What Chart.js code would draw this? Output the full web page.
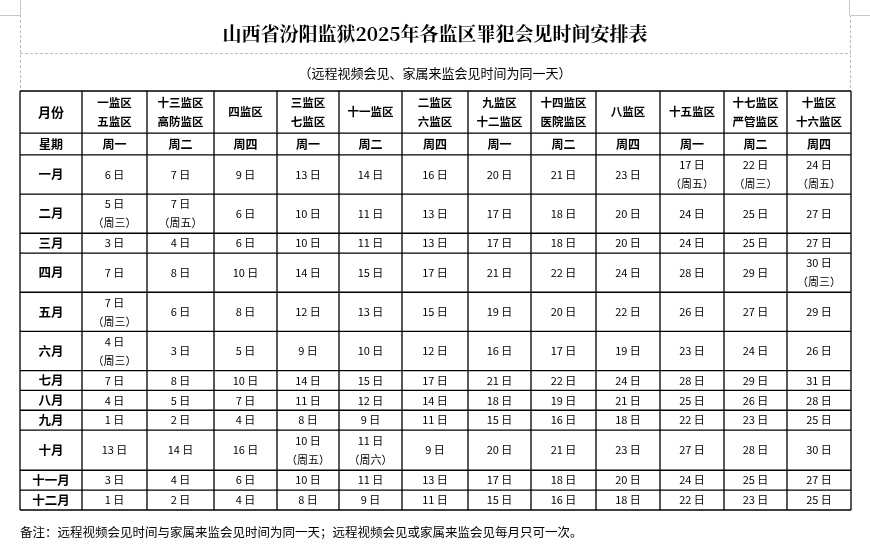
<!DOCTYPE html>
<html><head><meta charset="utf-8">
<script src="https://cdn.jsdelivr.net/npm/chart.js@4"></script>
<style>html,body{margin:0;padding:0;background:#fff}#w{width:870px;height:555px}</style>
</head><body><div id="w"><canvas id="c"></canvas></div>
<script>
const title = '山西省汾阳监狱2025年各监区罪犯会见时间安排表';
const subtitle = '（远程视频会见、家属来监会见时间为同一天）';
const footnote = '备注：远程视频会见时间与家属来监会见时间为同一天；远程视频会见或家属来监会见每月只可一次。';
const headerRow = ['月份','一监区\n五监区','十三监区\n高防监区','四监区','三监区\n七监区','十一监区','二监区\n六监区','九监区\n十二监区','十四监区\n医院监区','八监区','十五监区','十七监区\n严管监区','十监区\n十六监区'];
const weekRow = ['星期','周一','周二','周四','周一','周二','周四','周一','周二','周四','周一','周二','周四'];
const months = ['一月','二月','三月','四月','五月','六月','七月','八月','九月','十月','十一月','十二月'];
const days = [
 [6,7,9,13,14,16,20,21,23,17,22,24],
 [5,7,6,10,11,13,17,18,20,24,25,27],
 [3,4,6,10,11,13,17,18,20,24,25,27],
 [7,8,10,14,15,17,21,22,24,28,29,30],
 [7,6,8,12,13,15,19,20,22,26,27,29],
 [4,3,5,9,10,12,16,17,19,23,24,26],
 [7,8,10,14,15,17,21,22,24,28,29,31],
 [4,5,7,11,12,14,18,19,21,25,26,28],
 [1,2,4,8,9,11,15,16,18,22,23,25],
 [13,14,16,10,11,9,20,21,23,27,28,30],
 [3,4,6,10,11,13,17,18,20,24,25,27],
 [1,2,4,8,9,11,15,16,18,22,23,25]];
const notes = {'0-9':'（周五）','0-10':'（周三）','0-11':'（周五）','1-0':'（周三）','1-1':'（周五）','3-11':'（周三）','4-0':'（周三）','5-0':'（周三）','9-3':'（周五）','9-4':'（周六）'};
const colWidths = [62,65,67,63,62,63,66,63,65,64,64,63,64];
const rowUnits = [2.12,1.1,1.97,1.97,1.0,1.97,1.97,1.97,1.0,1.0,1.0,2.02,1.0,1.0];

const colEdges=[0]; colWidths.forEach(w=>colEdges.push(colEdges[colEdges.length-1]+w));
const rowEdges=[0]; rowUnits.forEach(u=>rowEdges.push(rowEdges[rowEdges.length-1]+u));
const CJK='"Noto Sans CJK SC","Noto Sans",sans-serif';

const tablePlugin={id:'table',afterDraw(chart){
 const ctx=chart.ctx,xs=chart.scales.x,ys=chart.scales.y;
 const X=v=>xs.getPixelForValue(v),Y=v=>ys.getPixelForValue(v);
 ctx.save();
 // page marks
 ctx.strokeStyle='#c8c8c8';ctx.lineWidth=1;
 ctx.beginPath();ctx.moveTo(20.5,0);ctx.lineTo(20.5,15);ctx.moveTo(0,15.5);ctx.lineTo(20,15.5);
 ctx.moveTo(849.5,0);ctx.lineTo(849.5,15);ctx.moveTo(850,15.5);ctx.lineTo(870,15.5);ctx.stroke();
 ctx.setLineDash([3,2]);ctx.strokeStyle='#bbb';
 ctx.beginPath();
 ctx.moveTo(20.5,15);ctx.lineTo(20.5,91);ctx.moveTo(850.5,15);ctx.lineTo(850.5,91);
 ctx.moveTo(20,53.5);ctx.lineTo(851,53.5);ctx.stroke();
 ctx.setLineDash([]);
 ctx.fillStyle='#000';ctx.textAlign='center';ctx.textBaseline='middle';
 ctx.font='bold 19px "Noto Serif CJK SC","Noto Sans CJK SC",serif';
 ctx.fillText(title,435,34);
 ctx.font='13px '+CJK;ctx.fillText(subtitle,435,73);
 ctx.textAlign='left';ctx.font='12.5px '+CJK;ctx.fillText(footnote,20,532);
 // grid
 ctx.strokeStyle='#000';ctx.lineWidth=1.3;ctx.beginPath();
 colEdges.forEach(c=>{ctx.moveTo(X(c),Y(0));ctx.lineTo(X(c),Y(rowEdges[rowEdges.length-1]));});
 rowEdges.forEach(r=>{ctx.moveTo(X(0),Y(r));ctx.lineTo(X(colEdges[colEdges.length-1]),Y(r));});
 ctx.stroke();
 ctx.textAlign='center';
 const cell=(ri,ci,lines,font)=>{
  const cx=(X(colEdges[ci])+X(colEdges[ci+1]))/2, cy=(Y(rowEdges[ri])+Y(rowEdges[ri+1]))/2;
  ctx.font=font;const lh=lines.length>1?19:0;
  lines.forEach((t,i)=>ctx.fillText(t,cx,cy+(i-(lines.length-1)/2)*lh));
 };
 headerRow.forEach((t,ci)=>cell(0,ci,t.split('\n'),(ci==0?'bold 13px ':'bold 11.5px ')+CJK));
 weekRow.forEach((t,ci)=>cell(1,ci,[t],'bold 12px '+CJK));
 months.forEach((m,mi)=>{
  cell(mi+2,0,[m],'bold 12.5px '+CJK);
  days[mi].forEach((d,di)=>{const n=notes[mi+'-'+di];cell(mi+2,di+1,n?[d+' 日',n]:[d+' 日'],'11px '+CJK);});
 });
 ctx.restore();
}};

new Chart(document.getElementById('c'),{
 type:'scatter',
 data:{datasets:[{data:[],pointRadius:0}]},
 options:{responsive:true,maintainAspectRatio:false,animation:false,
  layout:{padding:{left:20,right:19,top:91,bottom:45}},
  plugins:{legend:{display:false},tooltip:{enabled:false}},
  scales:{x:{type:'linear',display:false,min:0,max:colEdges[colEdges.length-1]},
          y:{type:'linear',display:false,reverse:true,min:0,max:rowEdges[rowEdges.length-1]}}},
 plugins:[tablePlugin]});
</script></body></html>
